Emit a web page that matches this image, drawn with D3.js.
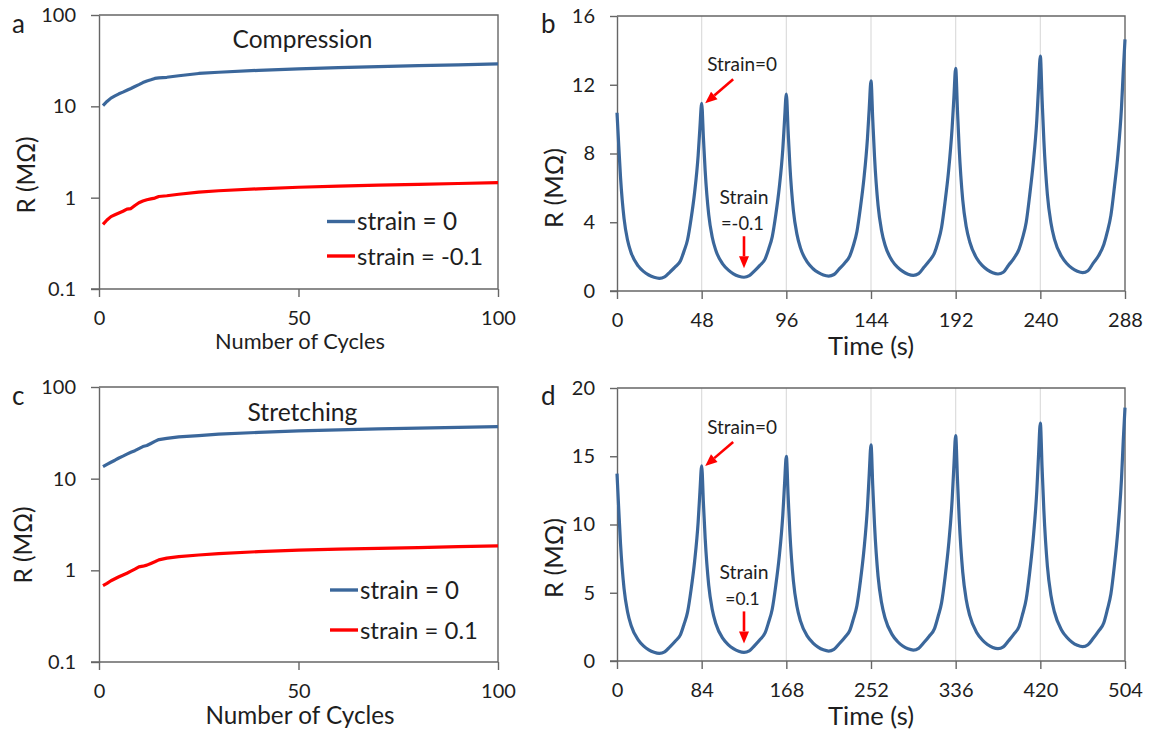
<!DOCTYPE html>
<html>
<head>
<meta charset="utf-8">
<script src="https://cdn.jsdelivr.net/npm/d3@7"></script>
<style>
  body { margin: 0; background: #fff; }
  svg { display: block; }
  text { font-family: Lato, "Open Sans", sans-serif; fill: #1e1e1e; }
</style>
</head>
<body>
<svg id="fig" width="1151" height="733"></svg>
<script>
// ---- cycling tests: resistance vs. number of cycles ----
const cycles = [1, 2, 3, 4, 5, 6, 7, 8, 9, 10, 11, 12, 13, 14, 15, 17, 20, 25, 30, 40, 50, 60, 70, 80, 90, 100];
const compRelaxed  = [10.2, 11.3, 12.3, 13.0, 13.7, 14.3, 15.0, 15.7, 16.5, 17.3, 18.2, 18.9, 19.5, 20.2, 20.5, 20.8, 21.6, 22.9, 23.6, 24.8, 25.7, 26.5, 27.2, 27.9, 28.5, 29.2];
const compStrained = [0.51, 0.57, 0.62, 0.65, 0.68, 0.71, 0.75, 0.76, 0.82, 0.88, 0.92, 0.95, 0.97, 0.99, 1.03, 1.05, 1.09, 1.15, 1.19, 1.25, 1.30, 1.34, 1.37, 1.40, 1.43, 1.46];
const strRelaxed   = [13.5, 14.3, 15.1, 15.9, 16.8, 17.6, 18.5, 19.4, 20.2, 21.3, 22.4, 23.0, 24.2, 25.5, 26.7, 27.5, 28.6, 29.5, 30.6, 32.0, 33.2, 34.1, 34.9, 35.6, 36.2, 36.9];
const strStrained  = [0.68, 0.72, 0.77, 0.81, 0.85, 0.89, 0.93, 0.98, 1.03, 1.09, 1.11, 1.14, 1.19, 1.24, 1.30, 1.36, 1.41, 1.47, 1.52, 1.60, 1.66, 1.70, 1.74, 1.77, 1.81, 1.85];

// ---- time traces: compression (b) and stretching (d) ----
const timeB = [0, 1, 2, 4, 6, 8, 12, 15, 18, 21, 24, 27, 30, 33, 36, 38, 40, 42, 44, 46, 47,
  48, 49, 50, 52, 54, 56, 60, 63, 66, 69, 72, 75, 78, 81, 84, 86, 88, 90, 92, 94, 95,
  96, 97, 98, 100, 102, 104, 108, 111, 114, 117, 120, 123, 126, 129, 132, 134, 136, 138, 140, 142, 143,
  144, 145, 146, 148, 150, 152, 156, 159, 162, 165, 168, 171, 174, 177, 180, 182, 184, 186, 188, 190, 191,
  192, 193, 194, 196, 198, 200, 204, 207, 210, 213, 216, 219, 222, 225, 228, 230, 232, 234, 236, 238, 239,
  240, 241, 242, 244, 246, 248, 252, 255, 258, 261, 264, 267, 270, 273, 276, 278, 280, 282, 284, 286, 287,
  288];
const resB = [10.37, 8.44, 6.61, 4.21, 2.95, 2.23, 1.46, 1.14, 0.93, 0.80, 0.74, 0.82, 1.10, 1.40, 1.76, 2.32, 2.98, 4.20, 5.73, 7.87, 9.49,
  10.92, 8.90, 6.97, 4.44, 3.13, 2.37, 1.56, 1.23, 1.00, 0.86, 0.80, 0.89, 1.17, 1.49, 1.87, 2.45, 3.15, 4.42, 6.02, 8.26, 9.97,
  11.46, 9.34, 7.33, 4.68, 3.31, 2.51, 1.66, 1.31, 1.08, 0.93, 0.87, 0.96, 1.29, 1.62, 2.05, 2.65, 3.45, 4.85, 6.55, 8.90, 10.63,
  12.22, 9.96, 7.81, 4.98, 3.51, 2.66, 1.76, 1.39, 1.14, 0.98, 0.91, 1.01, 1.38, 1.75, 2.22, 2.85, 3.70, 5.20, 7.00, 9.50, 11.27,
  12.96, 10.57, 8.29, 5.30, 3.74, 2.85, 1.89, 1.49, 1.23, 1.06, 0.99, 1.09, 1.50, 1.90, 2.45, 3.12, 4.00, 5.60, 7.45, 9.95, 11.89,
  13.67, 11.15, 8.76, 5.61, 3.97, 3.02, 2.02, 1.60, 1.32, 1.15, 1.07, 1.18, 1.62, 2.05, 2.70, 3.45, 4.40, 6.05, 7.95, 10.65, 12.74,
  14.64];

const timeD = [0, 1.75, 3.5, 7, 10.5, 14, 21, 26.25, 31.5, 36.75, 42, 47.25, 52.5, 57.75, 63, 66.5, 70, 73.5, 77, 80.5, 82.25,
  84, 85.75, 87.5, 91, 94.5, 98, 105, 110.25, 115.5, 120.75, 126, 131.25, 136.5, 141.75, 147, 150.5, 154, 157.5, 161, 164.5, 166.25,
  168, 169.75, 171.5, 175, 178.5, 182, 189, 194.25, 199.5, 204.75, 210, 215.25, 220.5, 225.75, 231, 234.5, 238, 241.5, 245, 248.5, 250.25,
  252, 253.75, 255.5, 259, 262.5, 266, 273, 278.25, 283.5, 288.75, 294, 299.25, 304.5, 309.75, 315, 318.5, 322, 325.5, 329, 332.5, 334.25,
  336, 337.75, 339.5, 343, 346.5, 350, 357, 362.25, 367.5, 372.75, 378, 383.25, 388.5, 393.75, 399, 402.5, 406, 409.5, 413, 416.5, 418.25,
  420, 421.75, 423.5, 427, 430.5, 434, 441, 446.25, 451.5, 456.75, 462, 467.25, 472.5, 477.75, 483, 486.5, 490, 493.5, 497, 500.5, 502.25,
  504];
const resD = [13.73, 11.10, 8.59, 5.30, 3.59, 2.60, 1.55, 1.11, 0.82, 0.64, 0.56, 0.67, 1.04, 1.45, 1.93, 2.69, 3.58, 5.23, 7.29, 10.17, 12.37,
  14.29, 11.56, 8.96, 5.55, 3.77, 2.75, 1.65, 1.20, 0.90, 0.71, 0.63, 0.74, 1.13, 1.56, 2.07, 2.86, 3.79, 5.52, 7.67, 10.69, 12.99,
  15.00, 12.15, 9.43, 5.87, 4.01, 2.94, 1.80, 1.33, 1.02, 0.82, 0.73, 0.85, 1.26, 1.71, 2.24, 3.07, 4.05, 5.86, 8.13, 11.30, 13.72,
  15.83, 12.82, 9.97, 6.21, 4.26, 3.13, 1.93, 1.43, 1.10, 0.89, 0.80, 0.93, 1.35, 1.82, 2.37, 3.24, 4.26, 6.14, 8.50, 11.80, 14.31,
  16.51, 13.39, 10.42, 6.52, 4.49, 3.32, 2.07, 1.56, 1.21, 0.99, 0.90, 1.03, 1.48, 1.97, 2.55, 3.46, 4.54, 6.52, 9.00, 12.47, 15.12,
  17.43, 14.15, 11.04, 6.95, 4.82, 3.59, 2.28, 1.74, 1.38, 1.15, 1.05, 1.19, 1.66, 2.19, 2.80, 3.76, 4.90, 7.00, 9.63, 13.31, 16.11,
  18.56];

// ---- axis ticks ----
const logTicks = [0.1, 1, 10, 100];
const cycleTicks = [0, 50, 100];
const timeTicksB = [0, 48, 96, 144, 192, 240, 288];
const resTicksB = [0, 4, 8, 12, 16];
const timeTicksD = [0, 84, 168, 252, 336, 420, 504];
const resTicksD = [0, 5, 10, 15, 20];

const BLUE = "#3b679b", RED = "#ff0000", AXIS = "#666666", GRID = "#dcdcdc";
const svg = d3.select("#fig");

// scale a text element so that its rendered length equals w
function fitText(sel, w) {
  const len = sel.node().getComputedTextLength();
  const fs = parseFloat(sel.attr("font-size"));
  sel.attr("font-size", (fs * w / len).toFixed(2));
  return sel;
}

function frame(g, x, y) {
  const [x0, x1] = x.range(), [y0, y1] = y.range();
  g.append("path")
    .attr("d", `M${x0},${y1}H${x1}V${y0}`)
    .attr("fill", "none").attr("stroke", AXIS).attr("stroke-width", 1.4);
}

function styleAxis(a) {
  a.selectAll("path.domain").attr("stroke", AXIS).attr("stroke-width", 1.4);
  a.selectAll(".tick line").attr("stroke", AXIS).attr("stroke-width", 1.4);
  a.selectAll(".tick text").attr("font-size", 20).attr("font-family", "Lato, sans-serif").attr("fill", "#222");
}

function axes(g, x, y, xt, yt, yFmt, tickY) {
  const ya = g.append("g").attr("transform", `translate(${x.range()[0]},0)`)
    .call(d3.axisLeft(y).tickValues(yt).tickFormat(yFmt).tickSize(tickY).tickSizeOuter(0).tickPadding(15));
  styleAxis(ya);
  const xa = g.append("g").attr("transform", `translate(0,${y.range()[0]})`)
    .call(d3.axisBottom(x).tickValues(xt).tickSize(8).tickSizeOuter(0).tickPadding(14));
  styleAxis(xa);
  // x axis line also runs under the lowest y tick
  xa.select("path.domain").attr("d", `M${x.range()[0] - tickY},0H${x.range()[1]}`);
}

function yTitle(g, bx, cy, w) {
  const t = g.append("text")
    .attr("transform", `translate(${bx},${cy}) rotate(-90)`)
    .attr("text-anchor", "middle").attr("font-size", 22).text("R (MΩ)");
  fitText(t, w);
}

function xTitle(g, cx, by, label, w) {
  const t = g.append("text").attr("x", cx).attr("y", by)
    .attr("text-anchor", "middle").attr("font-size", 20).text(label);
  fitText(t, w);
}

function panelLetter(g, x, y, s) {
  g.append("text").attr("x", x).attr("y", y).attr("font-size", 26).text(s);
}

function arrow(g, x1, y1, x2, y2) {
  const ang = Math.atan2(y2 - y1, x2 - x1), hl = 12, hw = 5;
  const bx = x2 - hl * Math.cos(ang), by = y2 - hl * Math.sin(ang);
  g.append("line").attr("x1", x1).attr("y1", y1).attr("x2", bx).attr("y2", by)
    .attr("stroke", RED).attr("stroke-width", 2.6);
  const px = -Math.sin(ang) * hw, py = Math.cos(ang) * hw;
  g.append("path")
    .attr("d", `M${x2},${y2}L${bx + px},${by + py}L${bx - px},${by - py}Z`)
    .attr("fill", RED);
}

// ---------- cycling panels (a, c) ----------
function cyclePanel(top, bottom, seriesA, seriesB, title, titleW, titleBase, legendLabelB, legY, legW, xLabW, xLabBase, yTitleX, yTitleCY, letter) {
  const g = svg.append("g");
  const x = d3.scaleLinear().domain([0, 100]).range([99, 498]);
  const y = d3.scaleLog().domain([0.1, 100]).range([bottom, top]);
  frame(g, x, y);
  axes(g, x, y, cycleTicks, logTicks, d3.format("~g"), 8);

  const line = d3.line().x((d, i) => x(cycles[i])).y(d => y(d));
  g.append("path").datum(seriesA).attr("d", line)
    .attr("fill", "none").attr("stroke", BLUE).attr("stroke-width", 3.2).attr("stroke-linejoin", "round");
  g.append("path").datum(seriesB).attr("d", line)
    .attr("fill", "none").attr("stroke", RED).attr("stroke-width", 3.2).attr("stroke-linejoin", "round");

  fitText(g.append("text").attr("x", x(51)).attr("y", titleBase).attr("text-anchor", "middle")
    .attr("font-size", 22).text(title), titleW);

  // legend
  const leg = [["strain = 0", BLUE, legW[0]], [legendLabelB, RED, legW[1]]];
  leg.forEach(([lab, col, w], i) => {
    const ly = legY[i];
    g.append("line").attr("x1", legY[2]).attr("x2", legY[2] + 28).attr("y1", ly).attr("y2", ly)
      .attr("stroke", col).attr("stroke-width", 3.4);
    fitText(g.append("text").attr("x", legY[2] + 30).attr("y", ly + 8.5).attr("font-size", 20).text(lab), w);
  });

  xTitle(g, 300, xLabBase, "Number of Cycles", xLabW);
  yTitle(g, yTitleX, yTitleCY, 77);
  panelLetter(g, 12, top + 18, letter);
}

cyclePanel(15, 289, compRelaxed, compStrained, "Compression", 140, 48,
  "strain = -0.1", [221.5, 256, 327], [100, 126], 170, 349, 35, 175, "a");
cyclePanel(387, 662, strRelaxed, strStrained, "Stretching", 110, 421,
  "strain = 0.1", [590, 630, 330], [99, 118], 189, 724, 32, 545, "c");

// ---------- time panels (b, d) ----------
function timePanel(top, bottom, tMax, yMax, times, res, xt, yt, strainLabel, peakT, minT, yTitleCY, letter) {
  const g = svg.append("g");
  const x = d3.scaleLinear().domain([0, tMax]).range([617, 1125]);
  const y = d3.scaleLinear().domain([0, yMax]).range([bottom, top]);

  g.selectAll("line.grid").data(xt.filter(t => t > 0 && t < tMax)).join("line")
    .attr("class", "grid")
    .attr("x1", d => x(d)).attr("x2", d => x(d)).attr("y1", top).attr("y2", bottom)
    .attr("stroke", GRID).attr("stroke-width", 1.2);

  frame(g, x, y);
  axes(g, x, y, xt, yt, d3.format("d"), 7);

  const line = d3.line().x((d, i) => x(times[i])).y(d => y(d)).curve(d3.curveMonotoneX);
  g.append("path").datum(res).attr("d", line)
    .attr("fill", "none").attr("stroke", BLUE).attr("stroke-width", 3.2).attr("stroke-linejoin", "round");

  // annotation at the first full peak (relaxed) and the following minimum (strained)
  const pi = times.indexOf(peakT), mi = times.indexOf(minT);
  const tipX = x(peakT) + 3.5, tipY = y(res[pi]);
  arrow(g, tipX + 28, tipY - 24, tipX, tipY);
  fitText(g.append("text").attr("x", tipX + 2).attr("y", tipY - 32).attr("font-size", 16).text("Strain=0"), 70);

  const mx = x(minT), my = y(res[mi]) - 9;
  arrow(g, mx, my - 32, mx, my);
  fitText(g.append("text").attr("x", mx).attr("y", my - 64).attr("text-anchor", "middle")
    .attr("font-size", 16).text("Strain"), 49);
  fitText(g.append("text").attr("x", mx - 1.5).attr("y", my - 38).attr("text-anchor", "middle")
    .attr("font-size", 16).text(strainLabel), strainLabel.length * 8.6);

  xTitle(g, 871, bottom + 64, "Time (s)", 86);
  yTitle(g, 563, yTitleCY, 80);
  panelLetter(g, 541, top + 17, letter);
}

timePanel(16, 291, 288, 16, timeB, resB, timeTicksB, resTicksB, "=-0.1", 48, 72, 188, "b");
timePanel(388, 661, 504, 20, timeD, resD, timeTicksD, resTicksD, "=0.1", 84, 126, 558, "d");
</script>
</body>
</html>
